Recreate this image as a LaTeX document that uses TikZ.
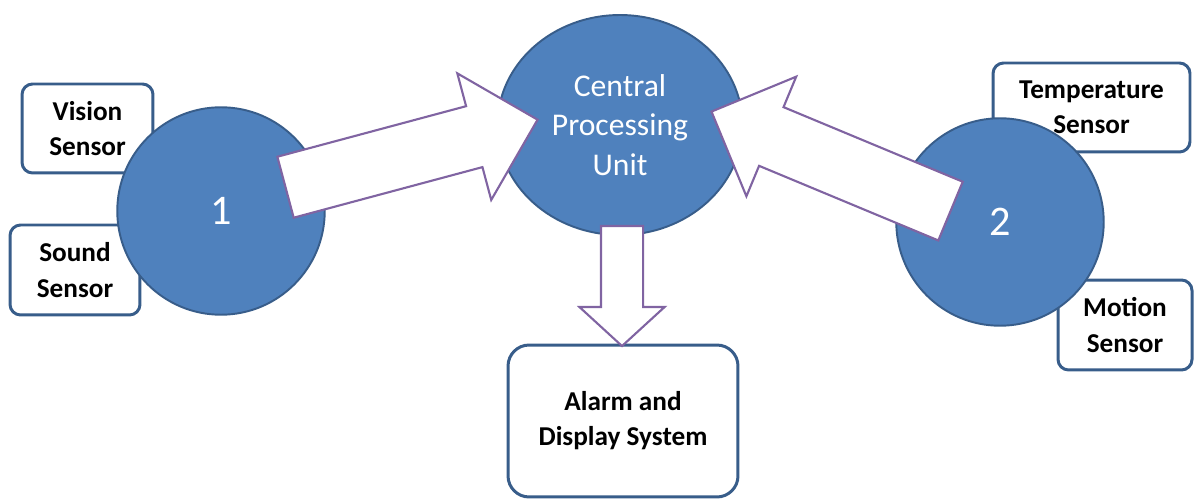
\documentclass[tikz,border=0pt]{standalone}
\usepackage{fontspec}
\setmainfont{Carlito}
\usetikzlibrary{shapes.geometric,shapes.arrows}
\definecolor{unitblue}{RGB}{79,129,189}
\definecolor{unitedge}{RGB}{56,93,138}
\definecolor{arrowpurple}{RGB}{128,100,162}
\begin{document}
\begin{tikzpicture}[x=0.02cm, y=-0.02cm,
  sensor/.style={draw=unitedge, line width=1.7pt, rounded corners=6pt, fill=white,
                 minimum width=#1, minimum height=1.78cm, align=center, inner sep=0pt,
                 font=\fontsize{15.5}{20}\selectfont\bfseries},
  unit/.style={circle, draw=unitedge, line width=1.1pt, fill=unitblue, align=center,
               minimum size=4.15cm, text=white, font=\fontsize{24}{28}\selectfont},
  blockarr/.style={single arrow, draw=arrowpurple, line width=1.2pt, fill=white,
                   inner xsep=0pt, inner ysep=#1, anchor=tail}
]
  \useasboundingbox (0,0) rectangle (1195,499);
  % sensor boxes
  \node[sensor=2.62cm]                     (vision) at (87.5,128.5)   {Vision\\Sensor};
  \node[sensor=2.6cm, minimum height=1.8cm]  (sound)  at (75,270)     {Sound\\Sensor};
  \node[sensor=3.94cm]                     (temp)   at (1091.5,107.5) {Temperature\\Sensor};
  \node[sensor=2.68cm, minimum height=1.8cm] (motion) at (1125,325)   {Motion\\Sensor};
  \node[sensor=4.6cm, minimum height=3.04cm, rounded corners=12pt]
                                           (alarm)  at (623,421)     {Alarm and\\Display System};
  % units
  \node[unit] (one) at (221,211)  {1};
  \node[unit] (two) at (1000,222) {2};
  \node[unit, ellipse, minimum width=4.9cm, minimum height=4.4cm,
        font=\fontsize{18}{22.5}\selectfont] (cpu) at (620,125) {Central\\Processing\\Unit};
  % block arrows
  \coordinate (lefttail)  at (284.5,187.5);
  \coordinate (righttail) at (951.5,211.5);
  \coordinate (downtail)  at (622,225);
  \node[blockarr=0.61cm, rotate=15, minimum height=5.22cm,
        single arrow head extend=0.68cm] (arrL) at (lefttail) {};
  \node[blockarr=0.615cm, rotate=157.4, minimum height=5.18cm,
        single arrow head extend=0.66cm] (arrR) at (righttail) {};
  \node[blockarr=0.4cm, rotate=-90, minimum height=2.4cm,
        single arrow head extend=0.43cm, single arrow tip angle=95] (arrD) at (downtail) {};
\end{tikzpicture}
\end{document}
